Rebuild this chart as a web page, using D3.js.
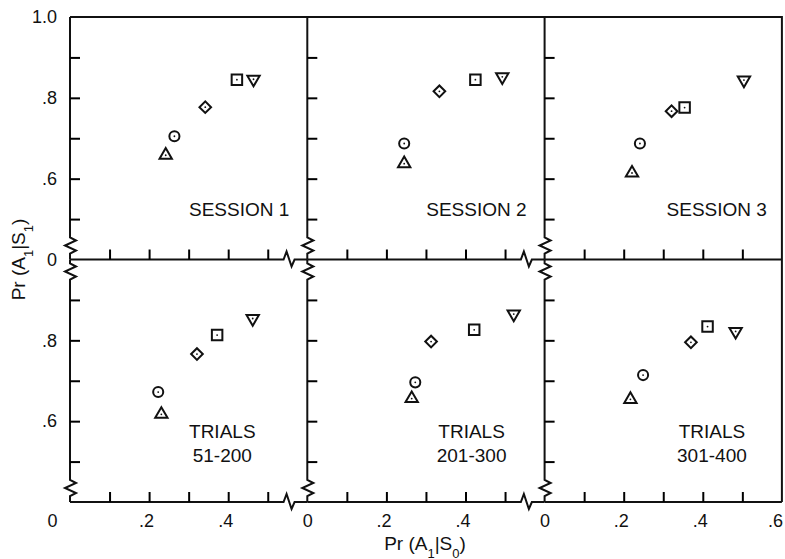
<!DOCTYPE html>
<html>
<head>
<meta charset="utf-8">
<script src="https://cdn.jsdelivr.net/npm/d3@7"></script>
<style>
  body { margin: 0; background: #fff; }
  text { font-family: "Liberation Sans", Arial, sans-serif; fill: #111; }
</style>
</head>
<body>
<script>
// panels: 3 sessions on top, 3 trial blocks below
var panelTitles = [["SESSION 1"], ["SESSION 2"], ["SESSION 3"],
                   ["TRIALS", "51-200"], ["TRIALS", "201-300"], ["TRIALS", "301-400"]];

// Pr(A1|S0) and Pr(A1|S1) for each marker type, one value per panel
var triUpX   = [0.242, 0.245, 0.221, 0.231, 0.264, 0.217];
var triUpY   = [0.658, 0.637, 0.614, 0.617, 0.656, 0.654];
var circleX  = [0.264, 0.245, 0.241, 0.223, 0.273, 0.249];
var circleY  = [0.705, 0.687, 0.687, 0.672, 0.696, 0.714];
var diamondX = [0.342, 0.334, 0.321, 0.321, 0.313, 0.370];
var diamondY = [0.777, 0.816, 0.767, 0.766, 0.797, 0.795];
var squareX  = [0.422, 0.425, 0.354, 0.372, 0.422, 0.412];
var squareY  = [0.845, 0.845, 0.776, 0.813, 0.826, 0.834];
var triDnX   = [0.464, 0.493, 0.504, 0.462, 0.522, 0.483];
var triDnY   = [0.846, 0.852, 0.844, 0.854, 0.865, 0.822];

// y axis is broken: the bottom of each row (0.4 on the scale) is labelled 0
var yTickLabelsTop = [0.4, 0.6, 0.8, 1.0];
var yTickLabelsBottom = [0.6, 0.8];
var innerTicks = [0.5, 0.6, 0.7, 0.8, 0.9];
var xInnerTicks = [0.1, 0.2, 0.3, 0.4, 0.5];

var series = [
  {shape: d3.symbolTriangle, size: 66, rot: 0,   xs: triUpX,   ys: triUpY},
  {shape: d3.symbolCircle,   size: 80, rot: 0,   xs: circleX,  ys: circleY},
  {shape: d3.symbolSquare,   size: 68, rot: 45,  xs: diamondX, ys: diamondY},
  {shape: d3.symbolSquare,   size: 110, rot: 0,  xs: squareX,  ys: squareY},
  {shape: d3.symbolTriangle, size: 66, rot: 180, xs: triDnX,   ys: triDnY}
];

var width = 785, height = 559;
var mLeft = 70, mTop = 17, W = 237.3, H = 242.5;
// distance of each panel caption from the panel's right edge
var captionRight = [18, 18, 15, 85, 73, 70];

var fmtX = function(d) {
  if (d === 0) return "0";
  return d3.format(".1f")(d).replace("0.", ".");
};
var fmtY = function(d) {
  if (d === 0.4) return "0";
  if (d === 1) return "1.0";
  return d3.format(".1f")(d).replace("0.", ".");
};

var svg = d3.select("body").append("svg")
  .attr("width", width).attr("height", height);

var line = d3.line();

function vZig(x, y0) {
  return [[x, y0], [x + 6, y0 + 3], [x - 5, y0 + 8], [x + 6, y0 + 13], [x, y0 + 16]];
}
function hZig(x0, y) {
  return [[x0, y], [x0 + 3, y - 8], [x0 + 8, y + 7], [x0 + 11, y]];
}

// top and right border
svg.append("path").attr("d", line([[mLeft, mTop], [mLeft + 3 * W, mTop], [mLeft + 3 * W, mTop + 2 * H]]))
  .attr("fill", "none").attr("stroke", "#111").attr("stroke-width", 2);

panelTitles.forEach(function(title, i) {
  var c = i % 3, r = Math.floor(i / 3);
  var x = d3.scaleLinear().domain([0, 0.6]).range([mLeft + c * W, mLeft + (c + 1) * W]);
  var y = d3.scaleLinear().domain([0.4, 1.0]).range([mTop + (r + 1) * H, mTop + r * H]);
  var g = svg.append("g");

  // bottom line with break
  var pts = [[x(0), y(0.4)]];
  if (c < 2) pts = pts.concat(hZig(x(0.54), y(0.4)));
  pts.push([x(0.6), y(0.4)]);
  g.append("path").attr("d", line(pts)).attr("fill", "none")
    .attr("stroke", "#111").attr("stroke-width", 2);

  // left axis with breaks
  var vp = [[x(0), y(1.0)]];
  if (r === 1) vp = vp.concat(vZig(x(0), y(1.0) + 4));
  vp = vp.concat(vZig(x(0), y(0.4) - 22));
  vp.push([x(0), y(0.4)]);
  g.append("path").attr("d", line(vp)).attr("fill", "none")
    .attr("stroke", "#111").attr("stroke-width", 2);

  // inward ticks
  g.append("g").attr("transform", "translate(" + x(0) + ",0)")
    .call(d3.axisRight(y).tickValues(innerTicks).tickSize(10).tickFormat(""))
    .call(function(a) { a.select(".domain").remove(); a.selectAll("line").attr("stroke-width", 2); });
  g.append("g").attr("transform", "translate(0," + y(0.4) + ")")
    .call(d3.axisTop(x).tickValues(xInnerTicks).tickSize(10).tickFormat(""))
    .call(function(a) { a.select(".domain").remove(); a.selectAll("line").attr("stroke-width", 2); });

  // y labels on the first column
  if (c === 0) {
    g.append("g").attr("transform", "translate(" + x(0) + ",0)")
      .call(d3.axisLeft(y).tickValues(r === 0 ? yTickLabelsTop : yTickLabelsBottom)
        .tickSize(0).tickPadding(13).tickFormat(fmtY))
      .call(function(a) {
        a.select(".domain").remove();
        a.selectAll("text").style("font-size", "18px").style("font-family", null);
      });
  }

  // x labels on the bottom row
  if (r === 1) {
    g.append("g").attr("transform", "translate(0," + y(0.4) + ")")
      .call(d3.axisBottom(x).tickValues(c === 2 ? [0, 0.2, 0.4, 0.6] : [0, 0.2, 0.4])
        .tickSize(0).tickPadding(12).tickFormat(fmtX))
      .call(function(a) {
        a.select(".domain").remove();
        a.selectAll("text").style("font-size", "18px").style("font-family", null)
          .attr("dx", function(d) {
            if (d === 0) return c === 0 ? -18 : 0;
            return d === 0.6 ? -7 : -3;
          });
      });
  }

  // caption
  var t = g.append("text").style("font-size", "19px");
  if (r === 0) {
    t.attr("text-anchor", "end").attr("x", x(0.6) - captionRight[i]).attr("y", y(0.4) - 44)
      .text(title[0]);
  } else {
    t.attr("text-anchor", "middle");
    title.forEach(function(s, k) {
      t.append("tspan").attr("x", x(0.6) - captionRight[i])
        .attr("y", y(0.4) - 64 + k * 24).text(s);
    });
  }

  // markers
  series.forEach(function(s) {
    var px = x(s.xs[i]), py = y(s.ys[i]);
    var m = g.append("g").attr("transform", "translate(" + px + "," + py + ")");
    m.append("path").attr("d", d3.symbol(s.shape, s.size)())
      .attr("transform", "rotate(" + s.rot + ")")
      .attr("fill", "#fff").attr("stroke", "#111").attr("stroke-width", 2);
    m.append("circle").attr("r", 0.9).attr("fill", "#111");
  });
});

// axis titles
var yt = svg.append("text").attr("text-anchor", "middle")
  .attr("transform", "translate(25," + (mTop + H) + ") rotate(-90)")
  .style("font-size", "19px");
yt.append("tspan").text("Pr (A");
yt.append("tspan").attr("baseline-shift", "sub").style("font-size", "13px").text("1");
yt.append("tspan").text("|S");
yt.append("tspan").attr("baseline-shift", "sub").style("font-size", "13px").text("1");
yt.append("tspan").text(")");

var xt = svg.append("text").attr("text-anchor", "middle")
  .attr("x", 425).attr("y", 550).style("font-size", "19px");
xt.append("tspan").text("Pr (A");
xt.append("tspan").attr("baseline-shift", "sub").style("font-size", "13px").text("1");
xt.append("tspan").text("|S");
xt.append("tspan").attr("baseline-shift", "sub").style("font-size", "13px").text("0");
xt.append("tspan").text(")");
</script>
</body>
</html>
